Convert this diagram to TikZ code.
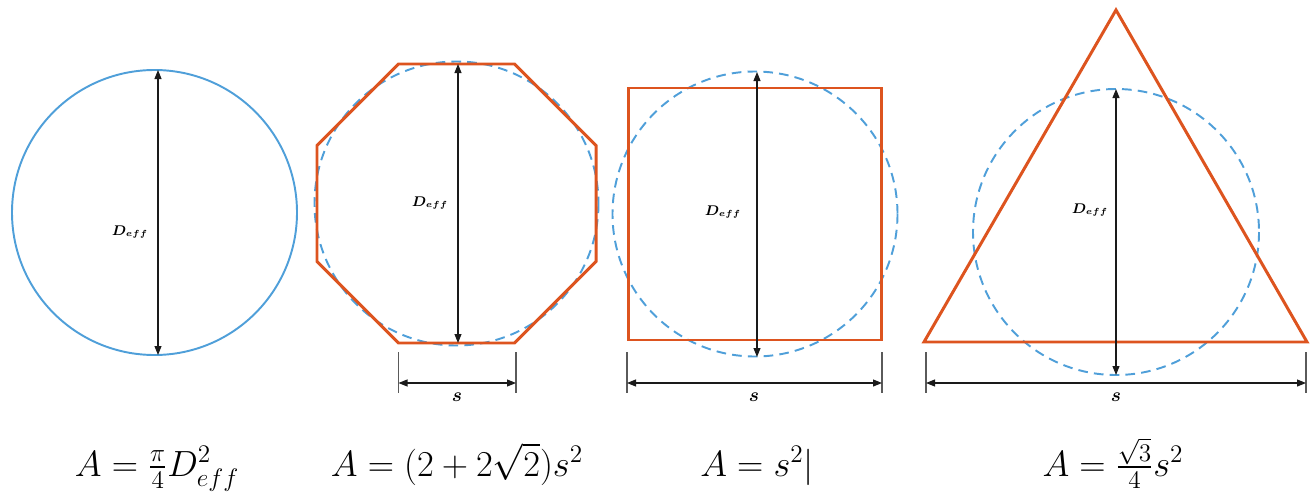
\documentclass[tikz,border=0pt]{standalone}
\usepackage{amsmath}
\usepackage{tikz}
\usetikzlibrary{arrows.meta,calc,positioning}
\definecolor{Sky}{HTML}{4F9FD9}
\definecolor{Rust}{HTML}{DD541F}
\definecolor{Ink}{HTML}{1A1A1A}
\definecolor{Muted}{HTML}{5A5A5A}

\begin{document}
\begin{tikzpicture}[
    x=0.02cm, y=-0.02cm,
    outline/.style={draw=Rust, line width=1.7pt, line join=miter},
    circ/.style={draw=Sky, line width=1.1pt},
    eqcirc/.style={draw=Sky, line width=1.1pt, dash pattern=on 5.5pt off 3.5pt},
    darr/.style={{Triangle[length=1.8mm,width=1.4mm]}-{Triangle[length=1.8mm,width=1.4mm]}, line width=0.6pt, draw=Ink},
    ext/.style={draw=Muted, line width=0.6pt},
    dlbl/.style={font=\fontsize{7.6}{9}\selectfont, inner sep=0pt},
    slbl/.style={font=\fontsize{10.5}{12}\selectfont, inner sep=0pt},
    formula/.style={font=\fontsize{19.5}{23}\selectfont, anchor=base, inner sep=0pt}
  ]
    \useasboundingbox (0,0) rectangle (1312,494);

    \draw[circ] (154.5,212.5) circle[radius=142.5];
    \coordinate (c1top) at (158,70);
    \coordinate (c1bot) at (158,355);
    \draw[darr] (c1top) -- (c1bot);
    \node[dlbl] (d1) at (130,232) {$\boldsymbol{D_{eff}}$};
    \node[formula] (f1) at (157,476) {$A=\frac{\pi}{4}D_{eff}^{2}$};

    \draw[eqcirc] (456.5,203.5) circle[radius=142];
    \draw[outline] (398.5,64) -- (514.5,64) -- (596,145.5) -- (596,261.5)
      -- (514.5,343) -- (398.5,343) -- (317,261.5) -- (317,145.5) -- cycle;
    \coordinate (c2top) at (458,64);
    \coordinate (c2bot) at (458,343);
    \draw[darr] (c2top) -- (c2bot);
    \node[dlbl] (d2) at (430,203) {$\boldsymbol{D_{eff}}$};
    \coordinate (e2a) at (398.5,352);
    \coordinate (e2b) at (398.5,393);
    \coordinate (e2c) at (516,352);
    \coordinate (e2d) at (516,393);
    \draw[ext] (e2a) -- (e2b);
    \draw[ext] (e2c) -- (e2d);
    \coordinate (s2l) at (398.5,383);
    \coordinate (s2r) at (516,383);
    \draw[darr] (s2l) -- (s2r);
    \node[slbl] (s2) at (457,397) {$\boldsymbol{s}$};
    \node[formula] (f2) at (457,476) {$A=(2+2\sqrt{2})s^{2}$};

    \draw[eqcirc] (755,214) circle[radius=142.5];
    \draw[outline] (628,88) rectangle (881,340);
    \coordinate (c3top) at (757,72);
    \coordinate (c3bot) at (757,357);
    \draw[darr] (c3top) -- (c3bot);
    \node[dlbl] (d3) at (723,212) {$\boldsymbol{D_{eff}}$};
    \coordinate (e3a) at (627,352);
    \coordinate (e3b) at (627,393);
    \coordinate (e3c) at (882,352);
    \coordinate (e3d) at (882,393);
    \draw[ext] (e3a) -- (e3b);
    \draw[ext] (e3c) -- (e3d);
    \coordinate (s3l) at (627,383);
    \coordinate (s3r) at (882,383);
    \draw[darr] (s3l) -- (s3r);
    \node[slbl] (s3) at (754,397) {$\boldsymbol{s}$};
    \node[formula] (f3) at (757,476) {$A=s^{2}|$};

    \draw[eqcirc] (1116,232) circle[radius=143];
    \draw[outline] (924,342) -- (1116,10) -- (1307,342) -- cycle;
    \coordinate (c4top) at (1116,89);
    \coordinate (c4bot) at (1116,375);
    \draw[darr] (c4top) -- (c4bot);
    \node[dlbl] (d4) at (1090,210) {$\boldsymbol{D_{eff}}$};
    \coordinate (e4a) at (926,352);
    \coordinate (e4b) at (926,393);
    \coordinate (e4c) at (1306,352);
    \coordinate (e4d) at (1306,393);
    \draw[ext] (e4a) -- (e4b);
    \draw[ext] (e4c) -- (e4d);
    \coordinate (s4l) at (926,383);
    \coordinate (s4r) at (1306,383);
    \draw[darr] (s4l) -- (s4r);
    \node[slbl] (s4) at (1116,397) {$\boldsymbol{s}$};
    \node[formula] (f4) at (1113,476) {$A=\frac{\sqrt{3}}{4}s^{2}$};
  \end{tikzpicture}
\end{document}
